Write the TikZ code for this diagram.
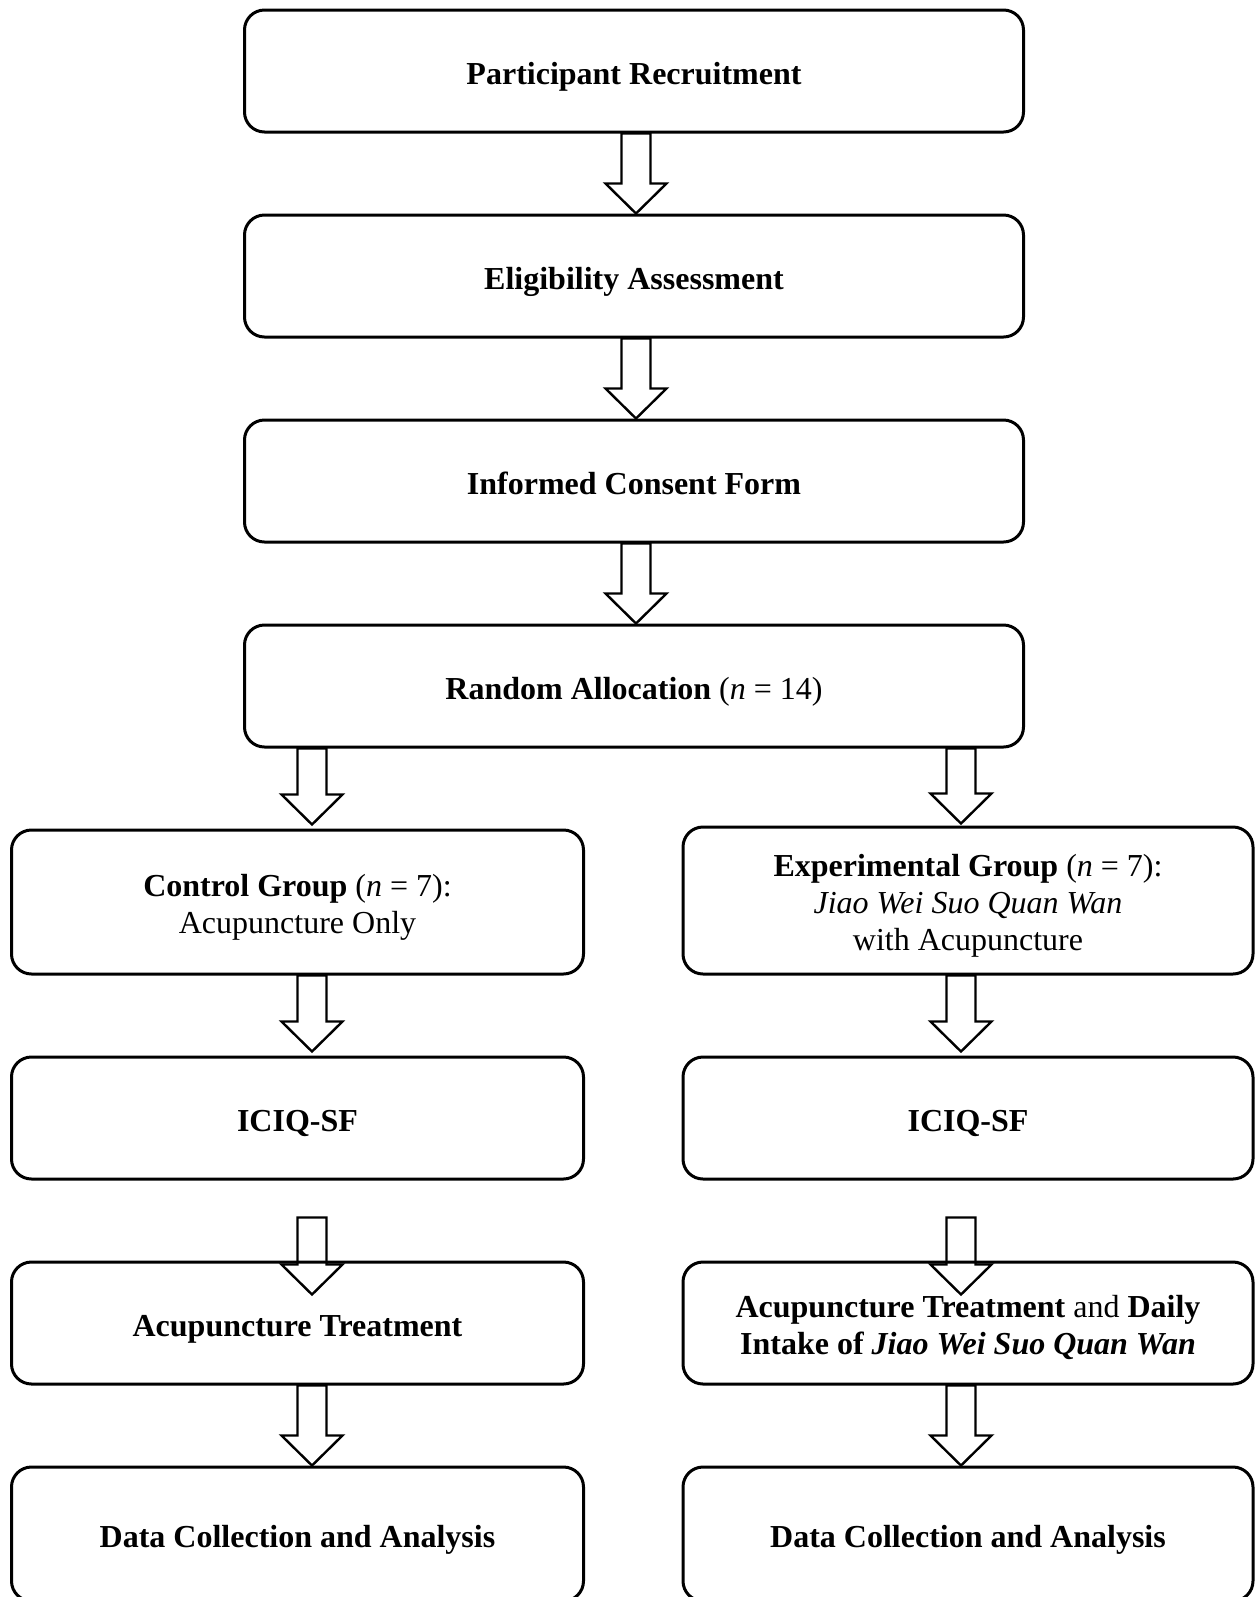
\documentclass[tikz,border=0pt]{standalone}
\usepackage{fontspec}
\setmainfont{Liberation Serif}
\usetikzlibrary{positioning,calc}

% hollow block arrow from #1 (shaft top) down to #2 (tip)
\newcommand{\hollowarrow}[2]{%
  \draw[hollow] let \p1=#1, \p2=#2 in
    (\x1-7.25pt,\y1) -- (\x1-7.25pt,\y2+15pt) -- (\x1-15.25pt,\y2+15pt)
    -- (\x1,\y2) -- (\x1+15.25pt,\y2+15pt) -- (\x1+7.25pt,\y2+15pt)
    -- (\x1+7.25pt,\y1) -- cycle;}
\newcommand{\boxstrut}{\rule[-4pt]{0pt}{21pt}}

\begin{document}
\begin{tikzpicture}[
    x=0.5pt, y=-0.5pt,
    node distance=40pt,
    box/.style={draw, line width=1.5pt, rounded corners=10pt, align=center,
                minimum width=389.5pt, minimum height=61pt,
                font=\fontsize{16}{18.3}\selectfont,
                execute at begin node=\boxstrut, execute at end node=\boxstrut},
    side/.style={box, minimum width=286pt},
    hollow/.style={draw, line width=1.2pt, line join=miter}
  ]
  \useasboundingbox (0,0) rectangle (1255,1597);
  \clip (0,0) rectangle (1255,1597);

  %%%%%%%%%%%%% Top: common steps %%%%%%%%%%%%%
  \node[box] (recruit) at (634,71) {\textbf{Participant Recruitment}};
  \node[box, below=of recruit] (elig) {\textbf{Eligibility Assessment}};
  \node[box, below=of elig] (consent) {\textbf{Informed Consent Form}};
  \node[box, below=of consent] (alloc) {\textbf{Random Allocation} (\textit{n} = 14)};

  %%%%%%%%%%%%% Left: control group %%%%%%%%%%%%%
  \node[side, minimum height=72pt] (ctrl) at (297.5,902)
    {\boxstrut\textbf{Control Group} (\textit{n} = 7):\\Acupuncture Only};
  \node[side, below=of ctrl] (iciqL) {\textbf{ICIQ-SF}};
  \node[side, below=of iciqL] (treatL) {\textbf{Acupuncture Treatment}};
  \node[side, below=of treatL, minimum height=67pt] (dataL) {\textbf{Data Collection and Analysis}};

  %%%%%%%%%%%%% Right: experimental group %%%%%%%%%%%%%
  \node[side, minimum width=285pt, minimum height=73.5pt] (expg) at (968,900.5)
    {\boxstrut\textbf{Experimental Group} (\textit{n} = 7):\\\textit{Jiao Wei Suo Quan Wan}\\with Acupuncture};
  \node[side, minimum width=285pt, below=of expg] (iciqR) {\textbf{ICIQ-SF}};
  \node[side, minimum width=285pt, below=of iciqR] (treatR)
    {\boxstrut\textbf{Acupuncture Treatment} and \textbf{Daily}\\\textbf{Intake of \textit{Jiao Wei Suo Quan Wan}}};
  \node[side, minimum width=285pt, below=of treatR, minimum height=67pt] (dataR) {\textbf{Data Collection and Analysis}};

  %%%%%%%%%%%%% Arrows: top column %%%%%%%%%%%%%
  \hollowarrow{($(recruit.south)+(1pt,0)$)}{(elig.north)}
  \hollowarrow{($(elig.south)+(1pt,0)$)}{(consent.north)}
  \hollowarrow{($(consent.south)+(1pt,0)$)}{(alloc.north)}

  %%%%%%%%%%%%% Arrows: left column %%%%%%%%%%%%%
  \hollowarrow{($(alloc.south -| ctrl.north)+(7.25pt,0)$)}{($(ctrl.north)+(0,2pt)$)}
  \hollowarrow{($(ctrl.south)+(7.25pt,0)$)}{($(iciqL.north)+(0,2pt)$)}
  \hollowarrow{($(iciqL.south)+(7.25pt,-18.5pt)$)}{($(treatL.north)+(0,-17pt)$)}
  \hollowarrow{($(treatL.south)+(7.25pt,0)$)}{(dataL.north)}

  %%%%%%%%%%%%% Arrows: right column %%%%%%%%%%%%%
  \hollowarrow{($(alloc.south -| expg.north)+(-3.5pt,0)$)}{($(expg.north)+(0,1pt)$)}
  \hollowarrow{($(expg.south)+(-3.5pt,0)$)}{($(iciqR.north)+(0,2pt)$)}
  \hollowarrow{($(iciqR.south)+(-3.5pt,-18.5pt)$)}{($(treatR.north)+(0,-17pt)$)}
  \hollowarrow{($(treatR.south)+(-3.5pt,0)$)}{(dataR.north)}

\end{tikzpicture}
\end{document}
